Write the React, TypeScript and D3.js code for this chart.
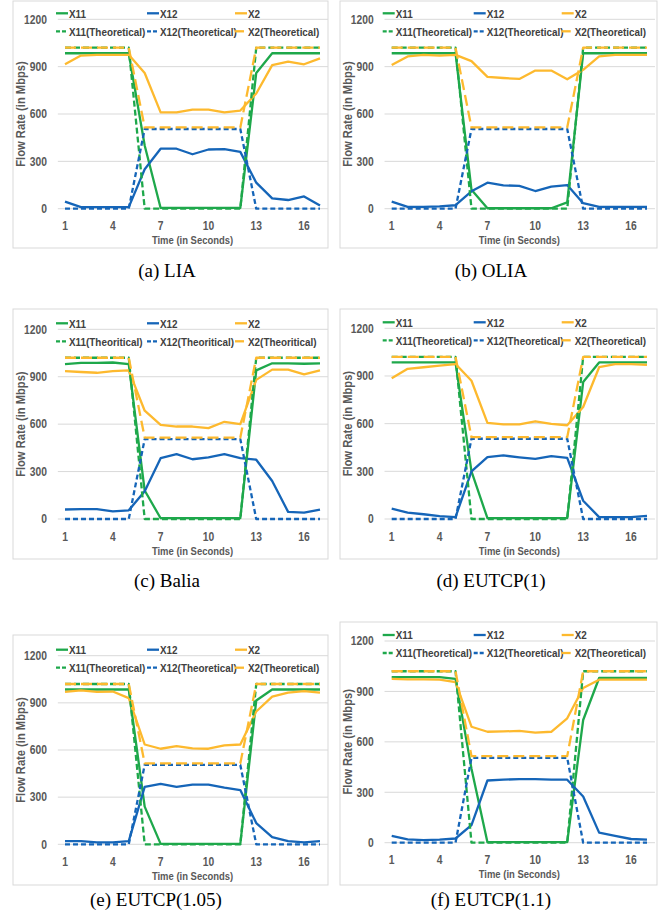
import React, { useEffect, useRef } from 'react'
import * as d3 from 'd3'

// time axis (seconds) and axis ticks
const times = [1, 2, 3, 4, 5, 6, 7, 8, 9, 10, 11, 12, 13, 14, 15, 16, 17]
const xTickLabels = [1, 4, 7, 10, 13, 16]
const yTickLabels = [0, 300, 600, 900, 1200]

// theoretical rates, same in every panel
const theoX11 = [1020, 1020, 1020, 1020, 1020, 0, 0, 0, 0, 0, 0, 0, 1020, 1020, 1020, 1020, 1020]
const theoX12 = [0, 0, 0, 0, 0, 505, 505, 505, 505, 505, 505, 505, 0, 0, 0, 0, 0]
const theoX2 = [1020, 1020, 1020, 1020, 1020, 515, 515, 515, 515, 515, 515, 515, 1020, 1020, 1020, 1020, 1020]

// (a) LIA
const liaX11 = [985, 985, 985, 985, 985, 400, 5, 5, 5, 5, 5, 5, 860, 985, 985, 985, 985]
const liaX12 = [45, 10, 10, 10, 10, 250, 380, 380, 345, 375, 378, 360, 165, 65, 55, 78, 20]
const liaX2 = [915, 970, 975, 975, 975, 860, 610, 610, 628, 628, 610, 622, 730, 910, 932, 915, 952]

// (b) OLIA
const oliaX11 = [985, 985, 985, 985, 985, 120, 3, 3, 3, 3, 3, 40, 985, 985, 985, 985, 985]
const oliaX12 = [45, 12, 12, 15, 22, 110, 165, 148, 145, 112, 140, 150, 35, 12, 12, 12, 12]
const oliaX2 = [910, 965, 975, 970, 975, 935, 835, 828, 822, 875, 875, 820, 880, 965, 975, 975, 975]

// (c) Balia
const baliaX11 = [980, 988, 988, 990, 980, 180, 5, 5, 5, 5, 5, 5, 940, 985, 985, 982, 985]
const baliaX12 = [60, 62, 62, 48, 55, 175, 385, 410, 378, 390, 410, 385, 375, 240, 45, 40, 60]
const baliaX2 = [935, 930, 925, 935, 940, 685, 595, 585, 585, 575, 615, 600, 880, 945, 945, 915, 940]

// (d) EUTCP(1)
const eu1X11 = [985, 985, 985, 985, 985, 300, 5, 5, 5, 5, 5, 5, 862, 985, 985, 985, 985]
const eu1X12 = [65, 40, 30, 18, 12, 300, 390, 400, 388, 378, 395, 385, 115, 12, 12, 12, 20]
const eu1X2 = [885, 945, 955, 965, 975, 870, 605, 595, 595, 615, 598, 590, 705, 955, 975, 975, 970]

// (e) EUTCP(1.05)
const eu105X11 = [985, 985, 985, 985, 985, 240, 3, 3, 3, 3, 3, 3, 915, 985, 985, 985, 985]
const eu105X12 = [20, 20, 12, 12, 20, 365, 385, 365, 380, 380, 360, 345, 135, 45, 20, 12, 20]
const eu105X2 = [970, 980, 970, 972, 930, 635, 608, 625, 610, 608, 630, 635, 845, 940, 965, 975, 965]

// (f) EUTCP(1.1)
const eu11X11 = [985, 985, 985, 985, 975, 440, 3, 3, 3, 3, 3, 3, 730, 980, 980, 980, 980]
const eu11X12 = [40, 20, 15, 18, 25, 105, 370, 375, 378, 378, 375, 375, 275, 60, 40, 22, 18]
const eu11X2 = [975, 972, 972, 970, 955, 690, 660, 662, 665, 655, 660, 740, 920, 970, 970, 970, 970]

const green = '#1ea84b'
const blue = '#1565b8'
const orange = '#fdb92e'

// Calibri-like look: Arial metrics squeezed horizontally
const sans = "'Liberation Sans', Arial, sans-serif"
const squeeze = 0.86

const panels = [
  { caption: '(a) LIA', word: 'Theoretical', x11: liaX11, x12: liaX12, x2: liaX2,
    x1: 65, x17: 320, yTop: 19.3, yBot: 208.7, frame: [13, 1, 328, 248], cap: [167, 270] },
  { caption: '(b) OLIA', word: 'Theoretical', x11: oliaX11, x12: oliaX12, x2: oliaX2,
    x1: 391.7, x17: 647, yTop: 19.3, yBot: 208.7, frame: [340, 1, 657, 248], cap: [491, 270] },
  { caption: '(c) Balia', word: 'Theoritical', x11: baliaX11, x12: baliaX12, x2: baliaX2,
    x1: 65, x17: 320, yTop: 329.3, yBot: 519, frame: [13, 309, 328, 559], cap: [167, 580] },
  { caption: '(d) EUTCP(1)', word: 'Theoretical', x11: eu1X11, x12: eu1X12, x2: eu1X2,
    x1: 391.7, x17: 647, yTop: 328.3, yBot: 519, frame: [340, 309, 657, 559], cap: [491, 580] },
  { caption: '(e) EUTCP(1.05)', word: 'Theoretical', x11: eu105X11, x12: eu105X12, x2: eu105X2,
    x1: 65, x17: 320, yTop: 655.7, yBot: 844.3, frame: [13, 635, 328, 885], cap: [156, 899] },
  { caption: '(f) EUTCP(1.1)', word: 'Theoretical', x11: eu11X11, x12: eu11X12, x2: eu11X2,
    x1: 391.7, x17: 647, yTop: 641, yBot: 842.7, frame: [340, 622, 657, 885], cap: [491, 899] },
]

type Sel = d3.Selection<SVGGElement, unknown, null, undefined>

const label = (g: Sel, x: number, y: number, s: string | number, size: number,
  anchor: string, fill: string, rotate = 0) => {
  g.append('text')
    .attr('transform', `translate(${x},${y}) rotate(${rotate}) scale(${squeeze},1)`)
    .attr('text-anchor', anchor).attr('dominant-baseline', 'central')
    .attr('font-family', sans).attr('font-weight', 'bold').attr('font-size', size)
    .attr('fill', fill).text(s)
}

const App = () => {
  const ref = useRef<SVGSVGElement>(null)

  useEffect(() => {
    const svg = d3.select(ref.current)
    svg.selectAll('*').remove()

    panels.forEach((p) => {
      const g = svg.append('g') as unknown as Sel
      const x = d3.scaleLinear().domain([1, 17]).range([p.x1, p.x17])
      const y = d3.scaleLinear().domain([0, 1200]).range([p.yBot, p.yTop])
      const [fx0, fy0, fx1, fy1] = p.frame

      g.append('rect')
        .attr('x', fx0).attr('y', fy0)
        .attr('width', fx1 - fx0).attr('height', fy1 - fy0)
        .attr('fill', '#fff').attr('stroke', '#d9d9d9').attr('stroke-width', 1)

      // gridlines
      g.selectAll('.grid').data(yTickLabels).join('line')
        .attr('x1', x(0.55)).attr('x2', x(17.5))
        .attr('y1', (d) => y(d)).attr('y2', (d) => y(d))
        .attr('stroke', '#d9d9d9').attr('stroke-width', 1)

      yTickLabels.forEach((d) => label(g, p.x1 - 18, y(d), d, 12, 'end', '#595959'))
      xTickLabels.forEach((d) => label(g, x(d), p.yBot + 17.5, d, 12, 'middle', '#595959'))

      label(g, x(9), p.yBot + 32, 'Time (in Seconds)', 11, 'middle', '#595959')
      label(g, p.x1 - 44, (p.yTop + p.yBot) / 2, 'Flow Rate (in Mbps)', 13, 'middle', '#595959', -90)

      const series = [
        { vals: p.x11, color: green, dash: null, name: 'X11' },
        { vals: p.x12, color: blue, dash: null, name: 'X12' },
        { vals: p.x2, color: orange, dash: null, name: 'X2' },
        { vals: theoX11, color: green, dash: '6,3', name: `X11(${p.word})` },
        { vals: theoX12, color: blue, dash: '5,3', name: `X12(${p.word})` },
        { vals: theoX2, color: orange, dash: '11,5', name: `X2(${p.word})` },
      ]

      const line = d3.line<number>()
        .x((_, i) => x(times[i]))
        .y((d) => y(d))

      series.forEach((s) => {
        g.append('path')
          .attr('d', line(s.vals))
          .attr('fill', 'none')
          .attr('stroke', s.color)
          .attr('stroke-width', 2.3)
          .attr('stroke-linejoin', 'round')
          .attr('stroke-dasharray', s.dash)
      })

      // legend, two rows of three
      const colX = [p.x1 - 9, p.x1 + 82, p.x1 + 170]
      series.forEach((s, i) => {
        const lx = colX[i % 3]
        const ly = i < 3 ? p.yTop - 6 : p.yTop + 12
        g.append('line')
          .attr('x1', lx).attr('x2', lx + 12)
          .attr('y1', ly).attr('y2', ly)
          .attr('stroke', s.color).attr('stroke-width', 2.3)
          .attr('stroke-dasharray', s.dash ? (i === 5 ? '9,3' : '4,2') : null)
        label(g, lx + 13, ly, s.name, 11.5, 'start', '#404040')
      })

      // caption
      svg.append('text')
        .attr('x', p.cap[0]).attr('y', p.cap[1])
        .attr('text-anchor', 'middle').attr('dominant-baseline', 'central')
        .attr('font-family', "'Liberation Serif', 'Times New Roman', serif")
        .attr('font-size', 19).attr('fill', '#000').text(p.caption)
    })
  }, [])

  return (
    <svg ref={ref} width={665} height={917}
      style={{ position: 'absolute', left: 0, top: 0, background: '#fff' }} />
  )
}

export default App
